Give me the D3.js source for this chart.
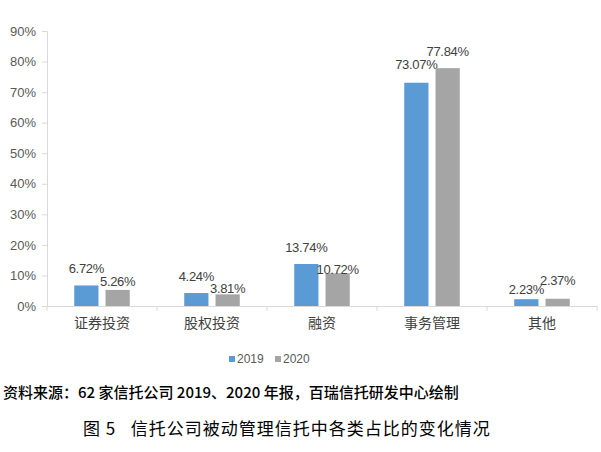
<!DOCTYPE html>
<html>
<head>
<meta charset="utf-8">
<script src="https://cdn.jsdelivr.net/npm/d3@7"></script>
<style>
  body { margin: 0; background: #fff; }
  svg text { font-family: "Liberation Sans", Arial, sans-serif; }
  .cjk { font-family: "Noto Sans CJK SC", sans-serif; }
</style>
</head>
<body>
<div id="chart"></div>
<script>
const categories = ['证券投资', '股权投资', '融资', '事务管理', '其他'];
const seriesNames = ['2019', '2020'];
const values2019 = [6.72, 4.24, 13.74, 73.07, 2.23];
const values2020 = [5.26, 3.81, 10.72, 77.84, 2.37];
const yTicks = [0, 10, 20, 30, 40, 50, 60, 70, 80, 90];
const sourceText = '资料来源：62 家信托公司 2019、2020 年报，百瑞信托研发中心绘制';
const titleText = '图 5\u00a0\u00a0 信托公司被动管理信托中各类占比的变化情况';

// label lift above bar top (px) – mimics Excel's collision shuffle
const lift2019 = [17, 17, 17, 18, 10];
const lift2020 = [8, 6, 4, 17, 18];

const colors = ['#5b9bd5', '#a5a5a5'];
const W = 601, H = 452;
const margin = { top: 31, left: 47, right: 4, bottom: 146 };

const svg = d3.select('#chart').append('svg')
  .attr('width', W).attr('height', H);

const x0 = d3.scaleBand().domain(categories)
  .range([margin.left, W - margin.right]);
const x1 = d3.scaleBand().domain(seriesNames)
  .range([0, x0.bandwidth()]).paddingInner(0.226).paddingOuter(0.87);
const y = d3.scaleLinear().domain([0, 90])
  .range([H - margin.bottom, margin.top]);

// y axis
const yAxis = d3.axisLeft(y).tickValues(yTicks).tickSize(5).tickPadding(6)
  .tickFormat(d => d + '%');
const yg = svg.append('g').attr('transform', `translate(${margin.left},0)`).call(yAxis);
yg.select('.domain').attr('stroke', '#d9d9d9');
yg.selectAll('.tick line').attr('stroke', '#d9d9d9');
yg.selectAll('.tick text').attr('fill', '#595959').style('font-size', '13px');

// x axis
const xAxis = d3.axisBottom(x0).tickSize(0).tickPadding(12);
const xg = svg.append('g').attr('transform', `translate(0,${y(0)})`).call(xAxis);
xg.select('.domain').attr('stroke', '#d9d9d9');
xg.selectAll('.tick text').attr('class', 'cjk').attr('fill', '#404040')
  .style('font-size', '14px');
// category separators
svg.append('g').selectAll('line')
  .data(categories.concat(['end']))
  .join('line')
  .attr('x1', (d, i) => i < categories.length ? x0(d) : x0.range()[1])
  .attr('x2', (d, i) => i < categories.length ? x0(d) : x0.range()[1])
  .attr('y1', y(0)).attr('y2', y(0) + 5)
  .attr('stroke', '#d9d9d9');

const series = [values2019, values2020];
const lifts = [lift2019, lift2020];

series.forEach((vals, s) => {
  const g = svg.append('g');
  g.selectAll('rect').data(vals).join('rect')
    .attr('x', (d, i) => x0(categories[i]) + x1(seriesNames[s]))
    .attr('width', x1.bandwidth())
    .attr('y', d => y(d))
    .attr('height', d => y(0) - y(d))
    .attr('fill', colors[s]);
  g.selectAll('text').data(vals).join('text')
    .attr('x', (d, i) => x0(categories[i]) + x1(seriesNames[s]) + x1.bandwidth() / 2)
    .attr('y', (d, i) => y(d) - lifts[s][i])
    .attr('dy', '0.35em')
    .attr('text-anchor', 'middle')
    .attr('fill', '#404040')
    .style('font-size', '13px')
    .style('letter-spacing', '-0.3px')
    .text(d => d.toFixed(2) + '%');
});

// legend
const legend = svg.append('g').attr('transform', 'translate(229,359)');
let lx = 0;
seriesNames.forEach((name, s) => {
  legend.append('rect').attr('x', lx).attr('y', -3).attr('width', 6).attr('height', 6)
    .attr('fill', colors[s]);
  legend.append('text').attr('x', lx + 8).attr('y', 0).attr('dy', '0.35em')
    .attr('fill', '#595959').style('font-size', '12px').text(name);
  lx += 46;
});

// source and caption
svg.append('text').attr('class', 'cjk')
  .attr('x', 3).attr('y', 398)
  .attr('fill', '#000').style('font-size', '15px').style('font-weight', 500)
  .text(sourceText);

svg.append('text').attr('class', 'cjk')
  .attr('x', 83).attr('y', 435)
  .attr('fill', '#000').style('font-size', '17px').style('letter-spacing', '1px')
  .text(titleText);
</script>
</body>
</html>
